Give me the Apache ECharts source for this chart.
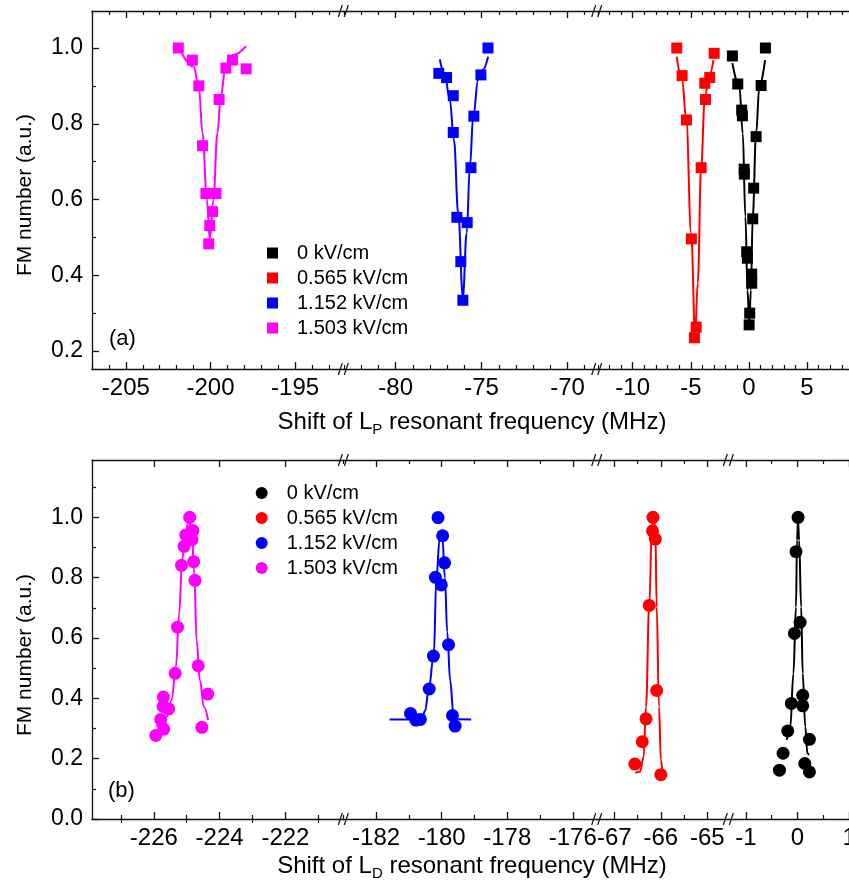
<!DOCTYPE html>
<html><head><meta charset="utf-8">
<script src="https://cdn.jsdelivr.net/npm/echarts@6/dist/echarts.min.js"></script>
<style>html,body{margin:0;padding:0;background:#fff}#c{width:849px;height:888px}</style>
</head><body><div id="c"></div>
<script>
const FONT = 'Liberation Sans, Arial, Helvetica, sans-serif';
const seriesNames = ['0 kV/cm', '0.565 kV/cm', '1.152 kV/cm', '1.503 kV/cm'];
const seriesColors = ['#000000', '#ff0000', '#0000ff', '#ff00ff'];

// tick labels
const aTicks1 = [-205, -200, -195];
const aTicks2 = [-80, -75, -70];
const aTicks3 = [-10, -5, 0, 5];
const aYTicks = [0.2, 0.4, 0.6, 0.8, 1.0];
const bTicks1 = [-226, -224, -222];
const bTicks2 = [-182, -180, -178, -176];
const bTicks3 = [-67, -66, -65];
const bTicks4 = [-1, 0, 1];
const bYTicks = [0.0, 0.2, 0.4, 0.6, 0.8, 1.0];

// ---- Panel (a): measured points (squares) and fitted curves ----
const a0x = [-1.42, 1.42, -0.96, 1.05, -0.62, -0.56, 0.62, -0.41, -0.39, 0.41, 0.33, -0.19, -0.13, 0.24, 0.24, 0.07, 0.02];
const a0y = [0.979, 1.0, 0.905, 0.901, 0.836, 0.821, 0.766, 0.680, 0.667, 0.630, 0.549, 0.462, 0.445, 0.403, 0.379, 0.300, 0.269];
const a0fx = [-1.42, -0.82, -0.53, -0.30, -0.12, 0.03, 0.17, 0.33, 0.62, 0.90, 1.39];
const a0fy = [0.960, 0.898, 0.775, 0.555, 0.360, 0.275, 0.360, 0.555, 0.775, 0.898, 0.968];

const a1x = [-6.21, -2.99, -5.75, -3.37, -3.80, -3.74, -5.38, -4.11, -4.95, -4.54, -4.69];
const a1y = [1.0, 0.986, 0.927, 0.922, 0.907, 0.864, 0.810, 0.684, 0.496, 0.263, 0.235];
const a1fx = [-6.21, -5.75, -5.39, -4.97, -4.63, -4.40, -4.11, -3.80, -3.46, -3.05];
const a1fy = [0.977, 0.917, 0.810, 0.511, 0.245, 0.380, 0.686, 0.863, 0.924, 0.968];

const a2x = [-74.63, -77.49, -77.04, -75.04, -76.65, -75.45, -76.65, -75.62, -76.44, -75.84, -76.21, -76.09];
const a2y = [1.0, 0.933, 0.922, 0.929, 0.874, 0.820, 0.777, 0.684, 0.553, 0.539, 0.436, 0.334];
const a2fx = [-77.43, -77.14, -76.85, -76.61, -76.36, -76.09, -75.87, -75.68, -75.49, -75.20, -74.94, -74.62];
const a2fy = [0.970, 0.929, 0.863, 0.757, 0.564, 0.343, 0.511, 0.687, 0.819, 0.916, 0.942, 0.977];

const a3x = [-201.9, -201.07, -200.69, -200.47, -200.27, -199.67, -199.88, -200.04, -200.1, -199.49, -199.09, -198.7, -197.89];
const a3y = [1.0, 0.968, 0.90, 0.742, 0.616, 0.616, 0.568, 0.531, 0.483, 0.864, 0.947, 0.968, 0.945];
const a3fx = [-201.7, -201.0, -200.69, -200.47, -200.21, -200.04, -199.83, -199.59, -199.39, -199.13, -198.64, -197.9];
const a3fy = [0.987, 0.951, 0.900, 0.775, 0.599, 0.496, 0.599, 0.775, 0.871, 0.942, 0.982, 1.005];

// ---- Panel (b): measured points (circles) and fitted curves ----
const b0x = [0.01, -0.03, 0.05, -0.06, 0.10, -0.12, 0.10, -0.19, 0.23, -0.28, 0.14, -0.35, 0.23];
const b0y = [1.0, 0.886, 0.652, 0.615, 0.410, 0.383, 0.375, 0.292, 0.264, 0.218, 0.184, 0.162, 0.156];
const b0fx = [-0.21, -0.14, -0.08, -0.03, -0.01, 0.01, 0.03, 0.07, 0.10, 0.15, 0.19, 0.22];
const b0fy = [0.262, 0.306, 0.482, 0.703, 0.924, 0.990, 0.924, 0.703, 0.482, 0.306, 0.218, 0.212];

const b1x = [-66.17, -66.18, -66.12, -66.25, -66.09, -66.32, -66.40, -66.56, -66.00];
const b1y = [1.0, 0.955, 0.928, 0.708, 0.426, 0.332, 0.256, 0.182, 0.147];
const b1fx = [-66.55, -66.45, -66.37, -66.32, -66.25, -66.19, -66.16, -66.12, -66.09, -66.04, -66.00, -65.96];
const b1fy = [0.153, 0.157, 0.206, 0.372, 0.708, 0.979, 0.996, 0.968, 0.703, 0.372, 0.195, 0.151];

const b2x = [-180.11, -179.97, -179.91, -180.19, -180.01, -179.79, -180.25, -180.38, -180.95, -180.79, -180.65, -179.67, -179.59];
const b2y = [0.999, 0.939, 0.849, 0.801, 0.776, 0.578, 0.540, 0.431, 0.350, 0.328, 0.330, 0.343, 0.308];
const b2fx = [-181.59, -180.9, -180.6, -180.5, -180.40, -180.24, -180.16, -180.06, -179.98, -179.90, -179.83, -179.74, -179.64, -179.51, -179.10];
const b2fy = [0.330, 0.330, 0.335, 0.360, 0.427, 0.540, 0.800, 0.930, 0.935, 0.800, 0.620, 0.460, 0.350, 0.331, 0.330];

const b3x = [-224.91, -224.81, -225.03, -224.84, -225.08, -224.79, -225.16, -224.75, -225.28, -224.65, -225.35, -224.36, -225.71, -225.72, -225.55, -225.79, -225.70, -224.54, -225.94];
const b3y = [1.0, 0.956, 0.941, 0.926, 0.904, 0.853, 0.841, 0.791, 0.636, 0.508, 0.483, 0.414, 0.404, 0.373, 0.365, 0.330, 0.298, 0.304, 0.277];
const b3fx = [-225.92, -225.61, -225.46, -225.33, -225.23, -225.14, -225.03, -224.93, -224.85, -224.77, -224.70, -224.60, -224.48, -224.35];
const b3fy = [0.306, 0.339, 0.394, 0.504, 0.681, 0.858, 0.957, 0.990, 0.957, 0.814, 0.593, 0.460, 0.372, 0.328];

// ---- layout (broken axes emulated with side-by-side grids) ----
const panels = [
  { top: 11, height: 358, ymin: 0.1525, ymax: 1.0977, yMajor: aYTicks, yStep: 0.1, segs: [
    { left: 92, width: 251.3, min: -207, max: -192.15, major: aTicks1, step: 1 },
    { left: 343.3, width: 253.4, min: -83.05, max: -68.3, major: aTicks2, step: 1 },
    { left: 596.7, width: 261.3, min: -13.1, max: 9.39, major: aTicks3, step: 1 } ] },
  { top: 460, height: 359, ymin: 0, ymax: 1.19, yMajor: bYTicks, yStep: 0.1, segs: [
    { left: 92, width: 251.3, min: -227.88, max: -220.24, major: bTicks1, step: 1 },
    { left: 343.3, width: 253.4, min: -183.0, max: -175.27, major: bTicks2, step: 1 },
    { left: 596.7, width: 131.6, min: -67.38, max: -64.55, major: bTicks3, step: 0.5 },
    { left: 728.3, width: 129.7, min: -1.34, max: 1.17, major: bTicks4, step: 0.5 } ] }
];

function minorValues(min, max, step, majors) {
  const out = [];
  for (let k = Math.ceil(min / step - 1e-9); k * step <= max + 1e-9; k++) {
    const v = Math.round(k * step * 1000) / 1000;
    if (!majors.some(m => Math.abs(m - v) < 1e-6)) out.push(v);
  }
  return out;
}

const AXC = '#111';
const grids = [], xAxis = [], yAxis = [], series = [], graphic = [];
const gridIdx = [];
panels.forEach((p, pi) => {
  gridIdx[pi] = [];
  p.segs.forEach((s, si) => {
    const gi = grids.length;
    grids.push({ left: s.left, top: p.top, width: s.width, height: p.height, containLabel: false, outerBoundsMode: 'none' });
    const minors = minorValues(s.min, s.max, s.step, s.major);
    const base = { type: 'value', gridIndex: gi, min: s.min, max: s.max, splitLine: { show: false }, silent: true };
    const lineOn = { show: true, onZero: false, lineStyle: { color: AXC, width: 1.3 } };
    const xi = xAxis.length;
    xAxis.push(Object.assign({}, base, { position: 'bottom', axisLine: lineOn,
      axisTick: { show: true, inside: true, length: 7, customValues: s.major, lineStyle: { color: AXC, width: 1.3 } },
      axisLabel: { show: true, customValues: s.major, margin: 7, fontSize: 24, fontFamily: FONT, color: '#000', formatter: v => String(v) } }));
    xAxis.push(Object.assign({}, base, { position: 'bottom', axisLine: { show: false },
      axisTick: { show: true, inside: true, length: 4, customValues: minors, lineStyle: { color: AXC, width: 1.2 } },
      axisLabel: { show: false } }));
    xAxis.push(Object.assign({}, base, { position: 'top', axisLine: lineOn,
      axisTick: { show: true, inside: true, length: 7, customValues: s.major, lineStyle: { color: AXC, width: 1.3 } },
      axisLabel: { show: false } }));
    xAxis.push(Object.assign({}, base, { position: 'top', axisLine: { show: false },
      axisTick: { show: true, inside: true, length: 4, customValues: minors, lineStyle: { color: AXC, width: 1.2 } },
      axisLabel: { show: false } }));
    const yi = yAxis.length;
    const yBase = { type: 'value', gridIndex: gi, min: p.ymin, max: p.ymax, splitLine: { show: false }, silent: true, position: 'left' };
    if (si === 0) {
      const yMinor = minorValues(p.ymin, p.ymax, p.yStep, p.yMajor);
      yAxis.push(Object.assign({}, yBase, { axisLine: lineOn,
        axisTick: { show: true, inside: true, length: 7, customValues: p.yMajor, lineStyle: { color: AXC, width: 1.3 } },
        axisLabel: { show: true, customValues: p.yMajor, margin: 9, fontSize: 23, fontFamily: FONT, color: '#000', formatter: v => v.toFixed(1) } }));
      yAxis.push(Object.assign({}, yBase, { axisLine: { show: false },
        axisTick: { show: true, inside: true, length: 4, customValues: yMinor, lineStyle: { color: AXC, width: 1.2 } },
        axisLabel: { show: false } }));
    } else {
      yAxis.push(Object.assign({}, yBase, { show: false }));
    }
    gridIdx[pi][si] = { xi, yi };
  });
});

function addSet(pi, si, ci, xs, ys, fxs, fys, symbol, size) {
  const g = gridIdx[pi][si];
  series.push({ type: 'line', name: 'fit-' + pi + '-' + ci, xAxisIndex: g.xi, yAxisIndex: g.yi,
    data: fxs.map((x, i) => [x, fys[i]]), smooth: 0.4, smoothMonotone: 'x', showSymbol: false, symbol: 'none',
    lineStyle: { color: seriesColors[ci], width: 2 }, itemStyle: { color: seriesColors[ci] }, z: 2, silent: true });
  series.push({ type: 'scatter', name: seriesNames[ci], xAxisIndex: g.xi, yAxisIndex: g.yi,
    data: xs.map((x, i) => [x, ys[i]]), symbol: symbol, symbolSize: size,
    itemStyle: { color: seriesColors[ci], opacity: 1 }, z: 3, silent: true });
}
// panel (a)
addSet(0, 2, 0, a0x, a0y, a0fx, a0fy, 'rect', 11);
addSet(0, 2, 1, a1x, a1y, a1fx, a1fy, 'rect', 11);
addSet(0, 1, 2, a2x, a2y, a2fx, a2fy, 'rect', 11);
addSet(0, 0, 3, a3x, a3y, a3fx, a3fy, 'rect', 11);
// panel (b)
addSet(1, 3, 0, b0x, b0y, b0fx, b0fy, 'circle', 13);
addSet(1, 2, 1, b1x, b1y, b1fx, b1fy, 'circle', 13);
addSet(1, 1, 2, b2x, b2y, b2fx, b2fy, 'circle', 13);
addSet(1, 0, 3, b3x, b3y, b3fx, b3fy, 'circle', 13);

// break marks "//" at segment joins
function breakMark(x, y) {
  return { type: 'group', z: 100, children: [
    { type: 'rect', shape: { x: x - 2.5, y: y - 2, width: 5, height: 4 }, style: { fill: '#fff' } },
    { type: 'line', shape: { x1: x - 5, y1: y + 6, x2: x - 1, y2: y - 6 }, style: { stroke: AXC, lineWidth: 1.2 } },
    { type: 'line', shape: { x1: x + 1, y1: y + 6, x2: x + 5, y2: y - 6 }, style: { stroke: AXC, lineWidth: 1.2 } } ] };
}
panels.forEach(p => {
  p.segs.slice(1).forEach(s => {
    graphic.push(breakMark(s.left, p.top));
    graphic.push(breakMark(s.left, p.top + p.height));
  });
});
// panel labels, axis titles
graphic.push({ type: 'text', left: 109, top: 328, style: { text: '(a)', font: '22px ' + FONT, fill: '#000' } });
graphic.push({ type: 'text', left: 108, top: 780, style: { text: '(b)', font: '22px ' + FONT, fill: '#000' } });
function yTitle(cy) {
  return { type: 'text', x: 25, y: cy, rotation: Math.PI / 2,
    style: { text: 'FM number (a.u.)', font: '21px ' + FONT, fill: '#000', align: 'center', verticalAlign: 'middle' } };
}
graphic.push(yTitle(195));
graphic.push(yTitle(655));
function xTitle(cy, sub) {
  return { type: 'text', x: 472, y: cy,
    style: { text: 'Shift of L{s|' + sub + '} resonant frequency (MHz)', font: '24px ' + FONT, fill: '#000', align: 'center', verticalAlign: 'middle',
      rich: { s: { fontSize: 15, fontFamily: FONT, fill: '#000', padding: [15, 0, 0, 0] } } } };
}
graphic.push(xTitle(422, 'P'));
graphic.push(xTitle(866, 'D'));

const option = {
  animation: false,
  backgroundColor: '#fff',
  grid: grids, xAxis: xAxis, yAxis: yAxis, series: series, graphic: graphic,
  legend: [
    { data: seriesNames, orient: 'vertical', left: 262, top: 238, icon: 'rect', itemWidth: 11, itemHeight: 11, itemGap: 5,
      selectedMode: false, textStyle: { fontSize: 20, fontFamily: FONT, color: '#000', padding: [0, 0, 0, 14] } },
    { data: seriesNames, orient: 'vertical', left: 250.7, top: 478, icon: 'circle', itemWidth: 12, itemHeight: 12, itemGap: 5,
      selectedMode: false, textStyle: { fontSize: 20, fontFamily: FONT, color: '#000', padding: [0, 0, 0, 14] } }
  ]
};
const chart = echarts.init(document.getElementById('c'), null, { renderer: 'canvas' });
chart.setOption(option);
</script></body></html>
